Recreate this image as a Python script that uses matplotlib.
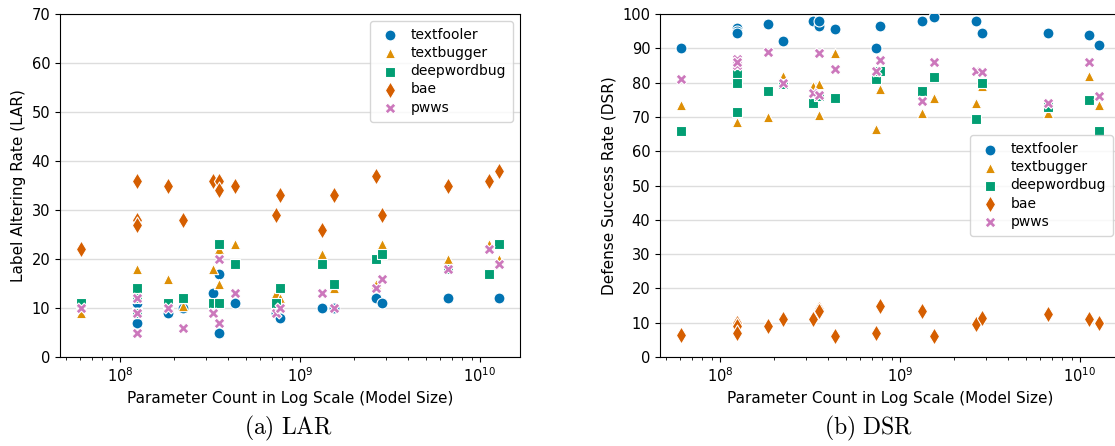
import matplotlib
matplotlib.use("Agg")
import matplotlib.pyplot as plt

# Parameter counts of the evaluated models (several share a size).
params = [
    6.07e7, 1.25e8, 1.25e8, 1.25e8, 1.84e8, 2.23e8, 3.3e8, 3.57e8, 3.57e8,
    4.35e8, 7.4e8, 7.74e8, 1.32e9, 1.55e9, 2.65e9, 2.85e9, 6.67e9, 1.13e10,
    1.28e10,
]

attacks = ["textfooler", "textbugger", "deepwordbug", "bae", "pwws"]

# Label Altering Rate (%) per attack, one value per model in `params` order.
lar_textfooler = [11, 11, 9, 7, 9, 10, 13, 17, 5, 11, 9, 8, 10, 10, 12, 11, 12, 17, 12]
lar_textbugger = [9, 18, 9, 14, 16, 10.5, 18, 22, 15, 23, 13, 12, 21, 14, 15, 23, 20, 23, 20]
lar_deepwordbug = [11, 14, 9, 12, 11, 12, 11, 23, 11, 19, 11, 14, 19, 15, 20, 21, 18, 17, 23]
lar_bae = [22, 36, 28, 27, 35, 28, 36, 36, 34, 35, 29, 33, 26, 33, 37, 29, 35, 36, 38]
lar_pwws = [10, 12, 9, 5, 10, 6, 9, 20, 7, 13, 9, 10, 13, 10, 14, 16, 18, 22, 19]

# Defense Success Rate (%) per attack.
dsr_textfooler = [90, 96, 95, 94.5, 97, 92, 98, 96.5, 98, 95.5, 90, 96.5, 98, 99, 98, 94.5, 94.5, 94, 91]
dsr_textbugger = [73.5, 82.5, 80, 68.5, 70, 82, 79, 79.5, 70.5, 88.5, 66.5, 78, 71, 75.5, 74, 79, 71, 82, 73.5]
dsr_deepwordbug = [66, 82.5, 80, 71.5, 77.5, 79.5, 74, 76.5, 76, 75.5, 81, 83.5, 77.5, 81.5, 69.5, 80, 73, 75, 66]
dsr_bae = [6.5, 10, 9, 7, 9, 11, 11, 14, 13.5, 6, 7, 15, 13.5, 6, 9.5, 11.5, 12.5, 11, 10]
dsr_pwws = [81, 87, 85, 86, 89, 80, 77, 76.5, 88.5, 84, 83.5, 86.5, 74.5, 86, 83.5, 83, 74, 86, 76]

lar = [lar_textfooler, lar_textbugger, lar_deepwordbug, lar_bae, lar_pwws]
dsr = [dsr_textfooler, dsr_textbugger, dsr_deepwordbug, dsr_bae, dsr_pwws]

colors = ["#0173b2", "#de8f05", "#029e73", "#d55e00", "#cc78bc"]
markers = ["o", "^", "s", "d", "X"]
sizes = [62, 55, 58, 75, 62]

plt.rcParams["mathtext.fontset"] = "cm"

fig = plt.figure(figsize=(11.15, 4.46), dpi=100)
ax_lar = fig.add_axes([60 / 1115, 1 - 357 / 446, 460 / 1115, 343 / 446])
ax_dsr = fig.add_axes([660 / 1115, 1 - 357 / 446, 460 / 1115, 343 / 446])


def draw_panel(ax, values, ylabel, ymax, legend_loc):
    for name, ys, c, m, s in zip(attacks, values, colors, markers, sizes):
        ax.scatter(params, ys, s=s, c=c, marker=m, edgecolors="white",
                   linewidths=0.8, label=name, zorder=3)
    ax.set_xscale("log")
    ax.set_ylim(0, ymax)
    ax.set_yticks(range(0, ymax + 1, 10))
    ax.grid(axis="y", color="#dddddd", linewidth=1.0, zorder=0)
    ax.set_axisbelow(True)
    ax.tick_params(labelsize=10.5)
    ax.set_xlabel("Parameter Count in Log Scale (Model Size)", fontsize=11)
    ax.set_ylabel(ylabel, fontsize=11)
    ax.legend(loc=legend_loc, fontsize=10, framealpha=0.8,
              borderpad=0.5, labelspacing=0.3, handletextpad=0.6,
              handlelength=1.8)


draw_panel(ax_lar, lar, "Label Altering Rate (LAR)", 70, "upper right")
draw_panel(ax_dsr, dsr, "Defense Success Rate (DSR)", 100, "center right")

fig.text(288 / 1115, 1 - 428 / 446, r"$\mathrm{(a)\ LAR}$", fontsize=17,
         ha="center", va="center")
fig.text(868 / 1115, 1 - 428 / 446, r"$\mathrm{(b)\ DSR}$", fontsize=17,
         ha="center", va="center")

fig.savefig("out.png", dpi=100)
